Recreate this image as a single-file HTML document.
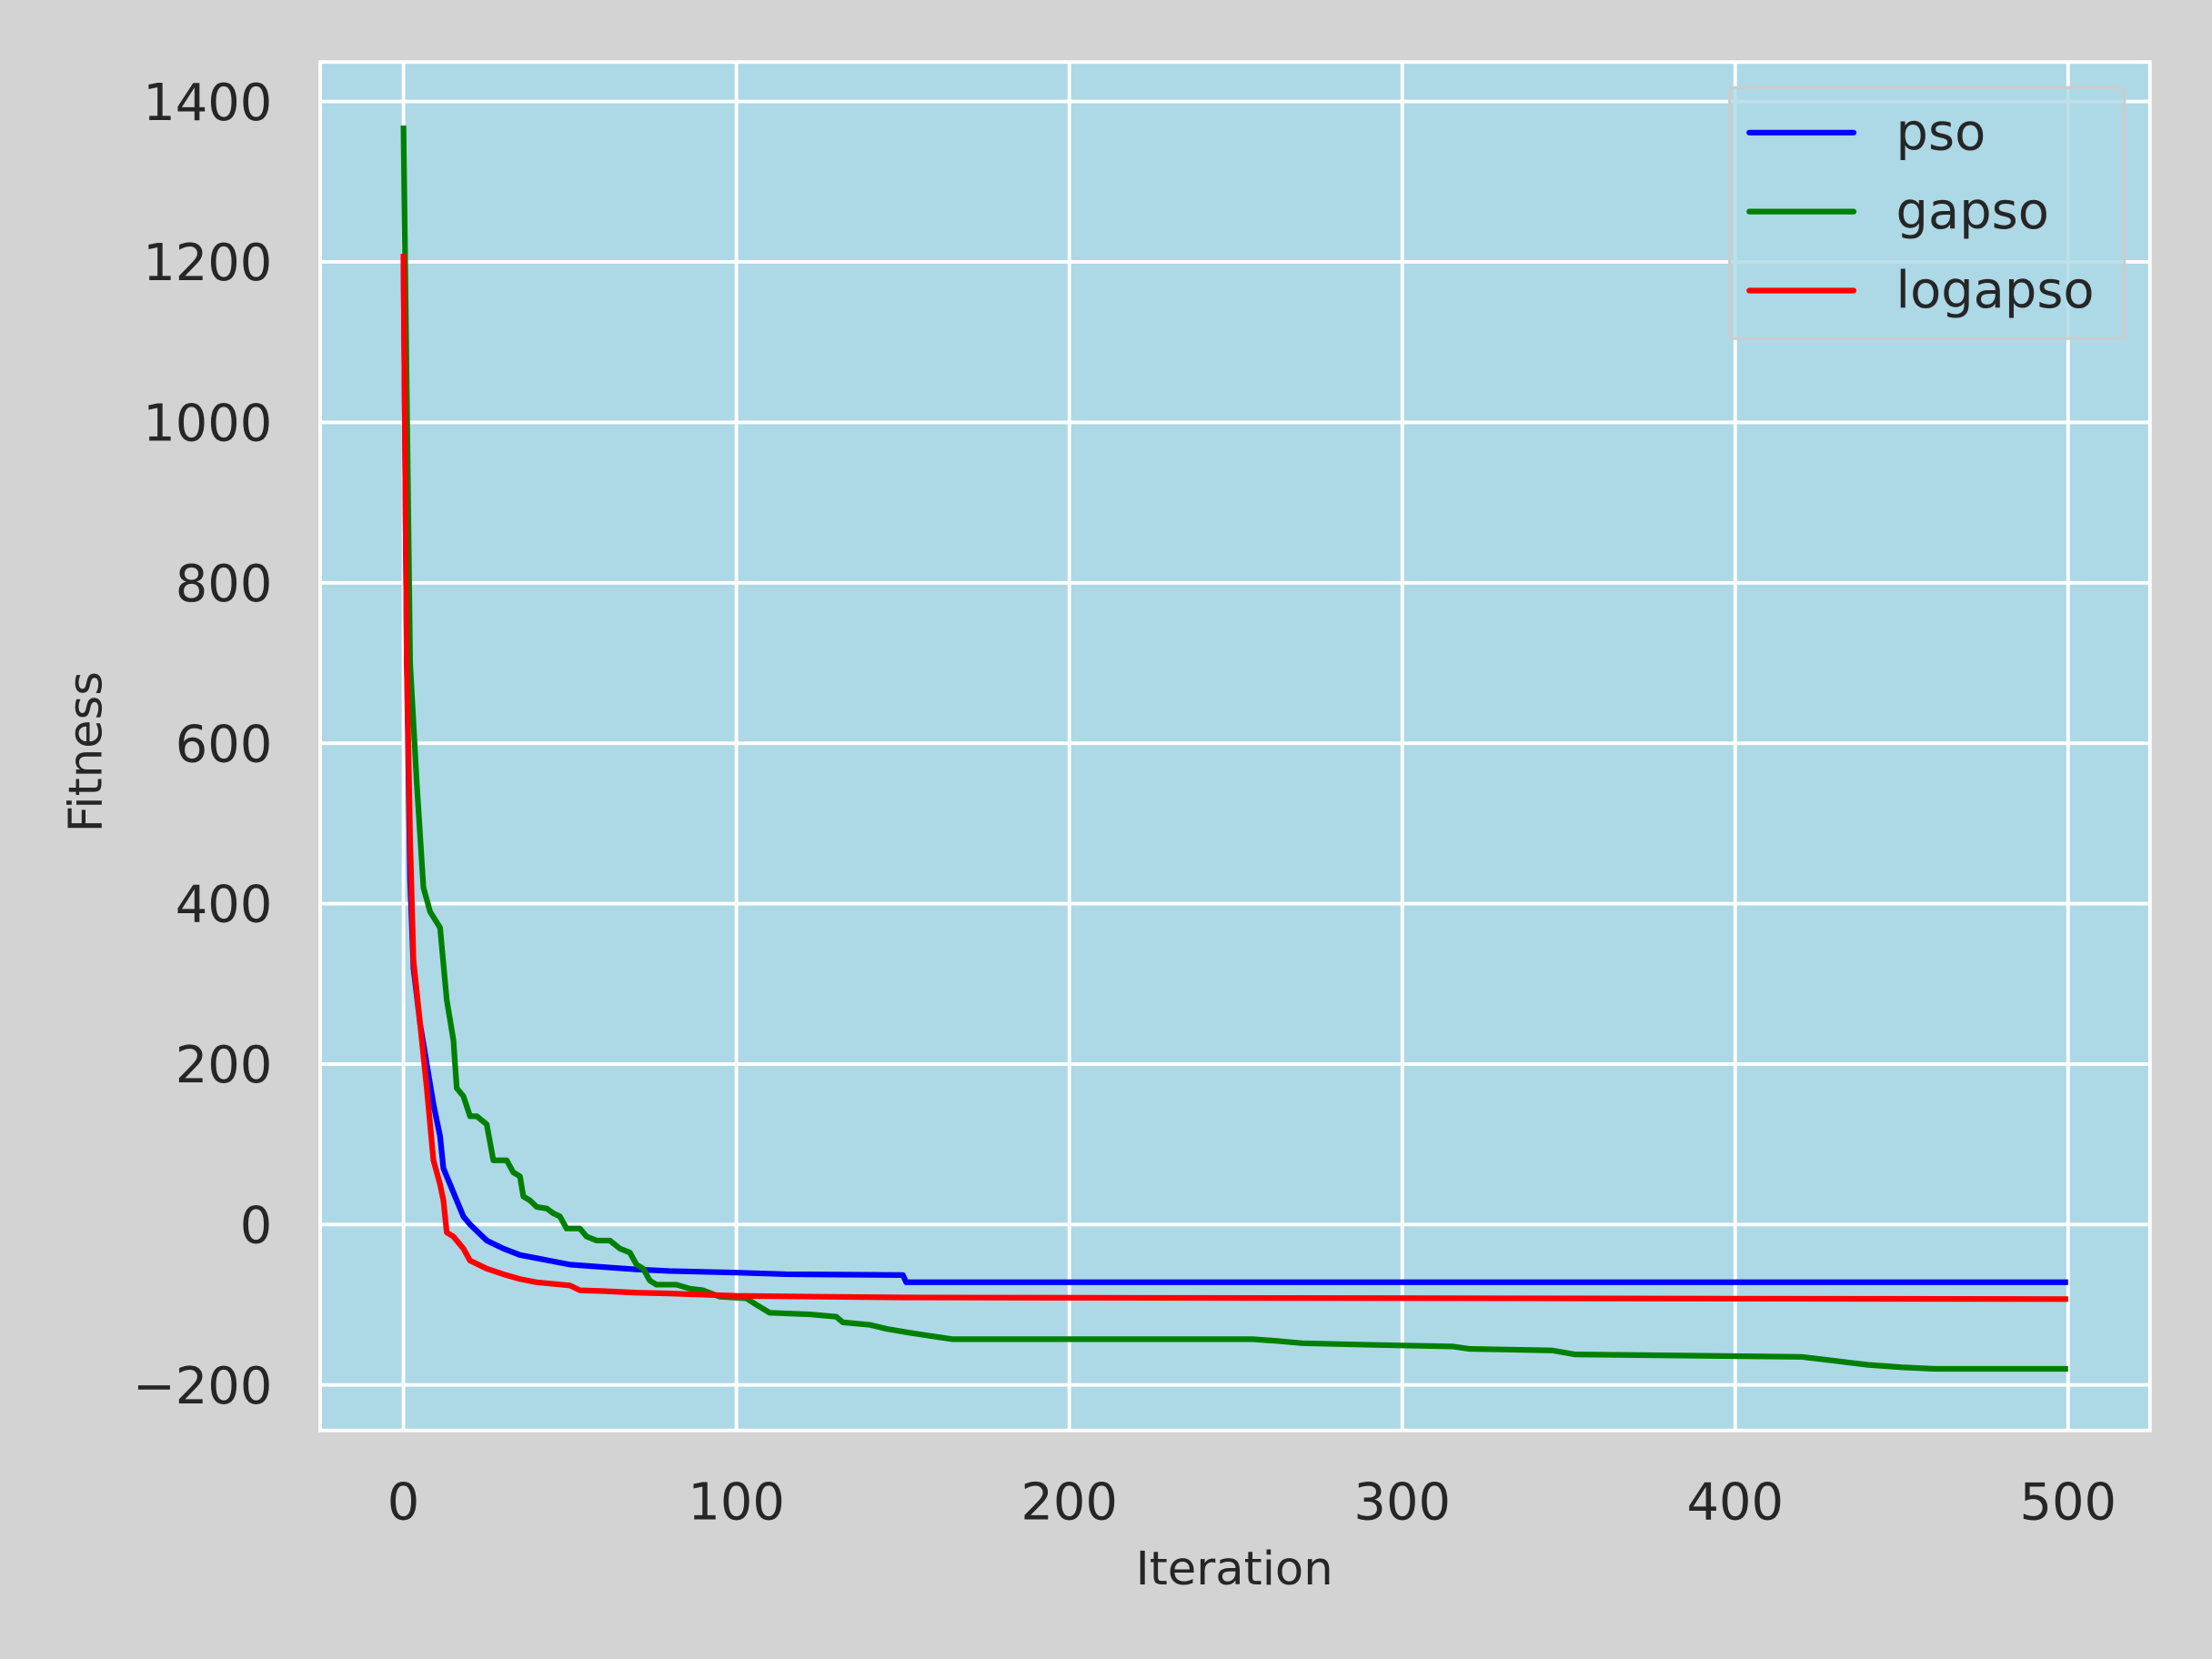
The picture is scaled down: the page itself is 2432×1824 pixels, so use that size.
<!DOCTYPE html>
<html><head><meta charset="utf-8"><style>
html,body{margin:0;padding:0;background:#d3d3d3;}
svg{display:block;}
text{font-family:"DejaVu Sans","Liberation Sans",sans-serif;fill:#262626;}
</style></head><body>
<svg id="chart" width="2432" height="1824" viewBox="0 0 1568 1176" xmlns="http://www.w3.org/2000/svg">
<rect x="0" y="0" width="1568" height="1176" fill="#d3d3d3"/>
<rect x="227" y="44" width="1297" height="970" fill="#add8e6" stroke="#ffffff" stroke-width="2.5"/>
<g id="grid"></g>
<g id="ticks"></g>
<g id="series"></g>
<text x="875" y="1123" font-size="33" text-anchor="middle">Iteration</text>
<text transform="translate(72,533) rotate(-90)" font-size="33" text-anchor="middle">Fitness</text>
<g>
<rect x="1226" y="62" width="280" height="178" rx="4" fill="#add8e6" fill-opacity="0.8" stroke="#cccccc" stroke-width="2"/>
<g id="legend-entries"></g>
</g>
</svg>
<script>
const xTicks=[0,100,200,300,400,500];
const yTicks=[-200,0,200,400,600,800,1000,1200,1400];
const yTickLabels=["\u2212200","0","200","400","600","800","1000","1200","1400"];
const seriesNames=["pso","gapso","logapso"];
const seriesColors=["#0000ff","#008000","#ff0000"];
const psoX=[0,1,2,3,5,7,9,11,12,14,16,18,20,25,30,35,40,45,50,60,70,80,100,115,150,151,500];
const psoY=[1210,700,430,320,250,200,150,110,70,50,30,10,0,-20,-30,-38,-42,-46,-50,-53,-56,-58,-60,-62,-63,-72,-72];
const gapsoX=[0,2,4,6,8,11,13,15,16,18,20,22,25,27,31,33,35,36,38,40,43,45,47,49,53,55,58,62,65,68,70,72,74,76,82,86,90,95,103,106,110,122,130,132,140,145,152,160,165,255,262,270,290,315,320,345,352,420,430,440,450,460,500];
const gapsoY=[1370,700,550,420,390,370,280,230,170,160,135,135,125,80,80,65,60,35,30,22,20,14,10,-5,-5,-15,-20,-20,-30,-35,-50,-55,-70,-75,-75,-80,-82,-90,-92,-100,-110,-112,-115,-122,-125,-130,-135,-140,-143,-143,-145,-148,-150,-152,-155,-157,-162,-165,-170,-175,-178,-180,-180];
const logapsoX=[0,1,2,3,5,7,9,11,12,13,15,18,20,25,30,35,40,45,50,53,60,70,80,100,150,500];
const logapsoY=[1210,700,480,330,250,170,80,50,30,-10,-15,-30,-45,-55,-62,-68,-72,-74,-76,-82,-83,-85,-86,-89,-91,-93];

const NS="http://www.w3.org/2000/svg";
const X=v=>286+v*2.36;
const Y=v=>868-v*0.5686;
function mk(tag,attrs,parent){const e=document.createElementNS(NS,tag);for(const k in attrs)e.setAttribute(k,attrs[k]);parent.appendChild(e);return e;}
const grid=document.getElementById('grid'),ticks=document.getElementById('ticks'),series=document.getElementById('series');
xTicks.forEach(t=>{
  const l=mk('line',{x1:X(t),x2:X(t),y1:44,y2:1014,stroke:'#fff','stroke-width':2.5},grid);
  
  
  const tx=mk('text',{x:X(t),y:1077,'font-size':36,'text-anchor':'middle'},ticks);
  tx.textContent=String(t);
  
  
});
yTicks.forEach((t,i)=>{
  const l=mk('line',{x1:227,x2:1524,y1:Y(t),y2:Y(t),stroke:'#fff','stroke-width':2.5},grid);
  
  
  const tx=mk('text',{x:193,y:Y(t)+13,'font-size':36,'text-anchor':'end'},ticks);
  tx.textContent=yTickLabels[i];
  
  
});
const data=[[psoX,psoY],[gapsoX,gapsoY],[logapsoX,logapsoY]];
data.forEach((d,i)=>{
  const pts=d[0].map((x,j)=>X(x).toFixed(2)+','+Y(d[1][j]).toFixed(2)).join(' ');
  const p=mk('polyline',{points:pts,fill:'none',stroke:seriesColors[i],'stroke-width':4,'stroke-linejoin':'round'},series);
  
  
});
const le=document.getElementById('legend-entries');
seriesNames.forEach((n,i)=>{
  const y=94+i*56;
  const l=mk('line',{x1:1240,x2:1314,y1:y,y2:y,stroke:seriesColors[i],'stroke-width':4,'stroke-linecap':'round'},le);
  
  
  const t=mk('text',{x:1344,y:y+12,'font-size':36},le);
  t.textContent=n;
  
  
});
</script>
</body></html>
